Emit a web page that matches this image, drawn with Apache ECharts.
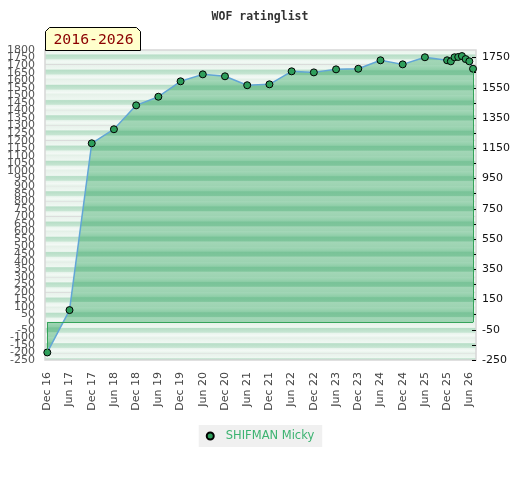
<!DOCTYPE html>
<html>
<head>
<meta charset="utf-8">
<title>WOF ratinglist</title>
<script src="https://cdn.jsdelivr.net/npm/echarts@6/dist/echarts.min.js"></script>
<style>
  html, body { margin: 0; padding: 0; background: #fff; }
  #mychart { width: 520px; height: 480px; }
</style>
</head>
<body>
<div id="mychart"></div>
<script>
// rating history, one entry per list
let months = ['2016-12', '2017-06', '2017-12', '2018-06', '2018-12', '2019-06', '2019-12',
    '2020-06', '2020-12', '2021-06', '2021-12', '2022-06', '2022-12', '2023-06', '2023-12',
    '2024-06', '2024-12', '2025-06', '2025-12', '2026-01', '2026-02', '2026-03', '2026-04',
    '2026-05', '2026-06', '2026-07']
let ratings = [-200, 80, 1183, 1276, 1434, 1491, 1593, 1639, 1626, 1567, 1573, 1659, 1652,
    1672, 1676, 1732, 1705, 1752, 1732, 1725, 1752, 1754, 1760, 1740, 1725, 1676]
let xTickLabels = ['Dec 16', 'Jun 17', 'Dec 17', 'Jun 18', 'Dec 18', 'Jun 19', 'Dec 19', 'Jun 20',
    'Dec 20', 'Jun 21', 'Dec 21', 'Jun 22', 'Dec 22', 'Jun 23', 'Dec 23', 'Jun 24', 'Dec 24',
    'Jun 25', 'Dec 25', 'Jun 26']
let rightTicks = [1750, 1550, 1350, 1150, 950, 750, 550, 350, 150, -50, -250]
let playerName = 'SHIFMAN Micky'
let period = '2016-2026'

// month count since Dec 2016
function monthIndex(s) {
    let p = s.split('-')
    return (parseInt(p[0]) - 2016) * 12 + (parseInt(p[1]) - 12)
}
let tickPos = xTickLabels.map((t, i) => i * 6)
let points = months.map((m, i) => [monthIndex(m), ratings[i]])
let first = points[0]
let last = points[points.length - 1]

let yMin = -250, yMax = 1800
let minorTicks = []
for (let v = -250; v <= 1750; v += 100) minorTicks.push(v)

// striped fills: one stripe every 100 rating points
function stripes(pattern) {
    let stops = []
    let span = yMax - yMin
    for (let top = yMax; top > yMin; top -= 100) {
        pattern.forEach(p => {
            let off = (yMax - (top - p[0] * 100)) / span
            if (off >= 0 && off <= 1) stops.push({offset: off, color: p[1]})
        })
    }
    return stops
}
let outside = [[0, '#d9d9d9'], [0.04, '#e8f2eb'], [0.3, '#eef7f1'], [0.38, '#b7dec7'],
    [0.62, '#c6e5d2'], [0.7, '#eaf5ee'], [0.85, '#f3f9f5'], [1, '#e3f0e7']]
let inside = [[0, '#a4d7b8'], [0.3, '#8fcea8'], [0.38, '#79c398'], [0.62, '#7ec59b'],
    [0.7, '#a2d6b6'], [1, '#9dd3b2']]

let leftLabel = {margin: 10, fontSize: 11, fontFamily: 'DejaVu Sans', color: '#555', formatter: v => String(v)}

let myChart = echarts.init(document.getElementById('mychart'))

let option = {
    animation: false,
    title: {
        text: 'WOF ratinglist',
        left: 'center',
        top: 6,
        textStyle: {fontFamily: 'DejaVu Sans Mono', fontSize: 11.5, fontWeight: 'bold', color: '#333'}
    },
    legend: {
        bottom: 33,
        left: 'center',
        backgroundColor: '#f0f0f0',
        padding: [5, 8, 5, 7],
        itemWidth: 7,
        itemHeight: 7,
        itemGap: 10,
        textStyle: {color: '#3cb371', fontSize: 11.5, fontFamily: 'DejaVu Sans', padding: [0, 0, 0, 7]},
        data: [{name: playerName, icon: 'circle'}]
    },
    graphic: [{
        type: 'group',
        left: 45,
        top: 27,
        children: [{
            type: 'polygon',
            shape: {points: [[0, 23], [0, 4], [4, 0], [91, 0], [95, 4], [95, 23]]},
            style: {fill: '#ffffcc', stroke: '#000', lineWidth: 1}
        }, {
            type: 'text',
            x: 48,
            y: 13,
            style: {
                text: period, fill: '#8b0000', fontFamily: 'DejaVu Sans Mono', fontSize: 14.8,
                align: 'center', verticalAlign: 'middle'
            }
        }]
    }],
    grid: {
        left: 45,
        right: 44,
        top: 50,
        bottom: 120,
        show: true,
        borderColor: '#d6d6d6',
        borderWidth: 1.5,
        backgroundColor: new echarts.graphic.LinearGradient(0, 0, 0, 1, stripes(outside))
    },
    xAxis: {
        type: 'value',
        min: -0.62,
        max: 115.8,
        axisLine: {show: false},
        axisTick: {show: false},
        splitLine: {show: false},
        axisLabel: {
            customValues: tickPos,
            rotate: 90,
            margin: 12,
            fontSize: 11,
            fontFamily: 'DejaVu Sans',
            color: '#444',
            formatter: v => xTickLabels[Math.round(v / 6)]
        }
    },
    yAxis: [{
        type: 'value',
        min: yMin,
        max: yMax,
        interval: 50,
        axisLine: {show: false},
        axisTick: {show: false},
        splitLine: {show: false},
        axisLabel: Object.assign({showMinLabel: false, showMaxLabel: false}, leftLabel)
    }, {
        type: 'value',
        position: 'right',
        min: yMin,
        max: yMax,
        axisLine: {show: false},
        splitLine: {show: false},
        axisTick: {show: true, inside: true, length: 4, customValues: minorTicks, lineStyle: {color: '#000'}},
        axisLabel: {
            customValues: rightTicks, margin: 6, fontSize: 11, fontFamily: 'DejaVu Sans', color: '#111',
            formatter: v => String(v)
        }
    }, {
        // end labels of the left scale, drawn separately so they are not dropped
        type: 'value',
        position: 'left',
        min: yMin,
        max: yMax,
        axisLine: {show: false},
        axisTick: {show: false},
        splitLine: {show: false},
        axisLabel: Object.assign({customValues: [yMin, yMax]}, leftLabel)
    }],
    series: [{
        name: playerName,
        type: 'line',
        data: points,
        symbol: 'circle',
        symbolSize: 7,
        itemStyle: {color: '#2e9e5b', borderColor: '#000', borderWidth: 1},
        lineStyle: {color: '#62a6d6', width: 1.5},
        areaStyle: {
            opacity: 1,
            color: new echarts.graphic.LinearGradient(0, 50, 0, 360, stripes(inside), true)
        },
        markLine: {
            silent: true,
            symbol: 'none',
            label: {show: false},
            lineStyle: {color: '#35a35a', type: 'solid', width: 1},
            data: [
                [{coord: [first[0], 0]}, {coord: [last[0], 0]}],
                [{coord: [first[0], first[1]]}, {coord: [first[0], 0]}],
                [{coord: [last[0], last[1]]}, {coord: [last[0], 0]}]
            ]
        }
    }]
}
myChart.setOption(option)
</script>
</body>
</html>
